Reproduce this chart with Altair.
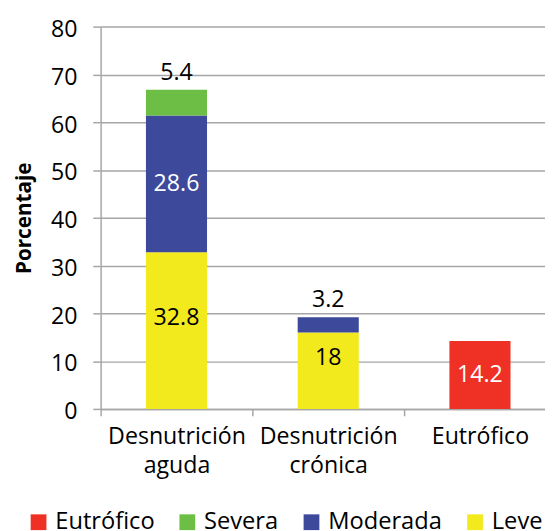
import altair as alt
import pandas as pd

# ---- data ----
categorias = ["Desnutrición aguda", "Desnutrición aguda", "Desnutrición aguda",
              "Desnutrición crónica", "Desnutrición crónica", "Eutrófico"]
series = ["Leve", "Moderada", "Severa", "Leve", "Moderada", "Eutrófico"]
valores = [32.8, 28.6, 5.4, 16.0, 3.2, 14.2]
etiquetas = ["32.8", "28.6", "5.4", "18", "3.2", "14.2"]
posicion_etiqueta = ["dentro", "dentro", "encima", "dentro", "encima", "dentro"]

orden_categorias = ["Desnutrición aguda", "Desnutrición crónica", "Eutrófico"]
leyenda = ["Eutrófico", "Severa", "Moderada", "Leve"]
colores = ["#EE3124", "#6DBE45", "#3D4A9C", "#F3EA1E"]
orden_apilado = {"Leve": 0, "Moderada": 1, "Severa": 2, "Eutrófico": 3}
y_ticks = [0, 10, 20, 30, 40, 50, 60, 70, 80]

df = pd.DataFrame({
    "categoria": categorias,
    "serie": series,
    "valor": valores,
    "etiqueta": etiquetas,
    "pos": posicion_etiqueta,
})
df["orden"] = df["serie"].map(orden_apilado)

FONT = "Open Sans"
GRID = "#A6A6A6"

base = alt.Chart(df).transform_stack(
    stack="valor", groupby=["categoria"], sort=[alt.SortField("orden", order="ascending")],
    as_=["y0", "y1"]
).transform_calculate(
    mid="(datum.y0 + datum.y1) / 2"
)

x_enc = alt.X(
    "categoria:N",
    sort=orden_categorias,
    scale=alt.Scale(paddingInner=0, paddingOuter=0),
    axis=alt.Axis(
        title=None, labelAngle=0, tickBand="extent",
        labelExpr="isValid(datum.value) ? split(datum.value, ' ') : ''",
        labelFont=FONT, labelFontSize=23.5, labelColor="#000000", labelLineHeight=29.5,
        labelBaseline="top", labelPadding=9, tickSize=7, tickColor=GRID, tickWidth=1.5,
        domainColor=GRID, domainWidth=1.5, grid=False, labelAlign="center",
    ),
)

bars = base.mark_bar(size=62).encode(
    x=x_enc,
    y=alt.Y(
        "y1:Q",
        scale=alt.Scale(domain=[0, 80], nice=False),
        axis=alt.Axis(
            values=y_ticks, title="Porcentaje", titleFont=FONT, titleFontSize=21,
            titleFontWeight="bold", titleColor="#000000", titleAngle=270,
            titleX=-67, titleY=194, titleAlign="center", titleBaseline="bottom",
            labelFont=FONT, labelFontSize=23.5, labelColor="#000000", labelPadding=16,
            labelOffset=3,
            tickSize=8, tickColor=GRID, tickWidth=1.5, domainColor=GRID, domainWidth=1.5,
            grid=True, gridColor=GRID, gridWidth=1.5,
        ),
    ),
    y2="y0:Q",
    color=alt.Color(
        "serie:N",
        scale=alt.Scale(domain=leyenda, range=colores),
        legend=alt.Legend(
            title=None, orient="none", direction="horizontal", legendX=-75, legendY=491,
            symbolType="square", symbolSize=256, symbolStrokeWidth=0, symbolOpacity=1,
            labelFont=FONT, labelFontSize=24, labelColor="#000000", labelOffset=5,
            columnPadding=21, padding=0,
        ),
    ),
    order=alt.Order("orden:Q"),
)

txt_props = dict(font=FONT, fontSize=23.5)

inside_white = base.transform_filter(
    "datum.pos == 'dentro' && (datum.serie == 'Moderada' || datum.serie == 'Eutrófico')"
).mark_text(color="#FFFFFF", baseline="middle", dy=0, **txt_props).encode(
    x=alt.X("categoria:N", sort=orden_categorias), y="mid:Q", text="etiqueta:N"
)

inside_dark = base.transform_filter(
    "datum.pos == 'dentro' && datum.serie == 'Leve'"
).mark_text(color="#000000", baseline="middle", dy=-13, **txt_props).encode(
    x=alt.X("categoria:N", sort=orden_categorias), y="mid:Q", text="etiqueta:N"
)

above = base.transform_filter("datum.pos == 'encima'").mark_text(
    color="#000000", baseline="alphabetic", dy=-10, **txt_props
).encode(
    x=alt.X("categoria:N", sort=orden_categorias), y="y1:Q", text="etiqueta:N"
)

chart = alt.layer(bars, inside_white, inside_dark, above).properties(
    width=462, height=388,
    autosize=alt.AutoSizeParams(type="none"),
    padding={"left": 94, "top": 15, "right": -11, "bottom": 120},
    background="#FFFFFF",
).configure_view(stroke=None)

chart.save("out.html", embed_options={"renderer": "svg", "actions": False})
